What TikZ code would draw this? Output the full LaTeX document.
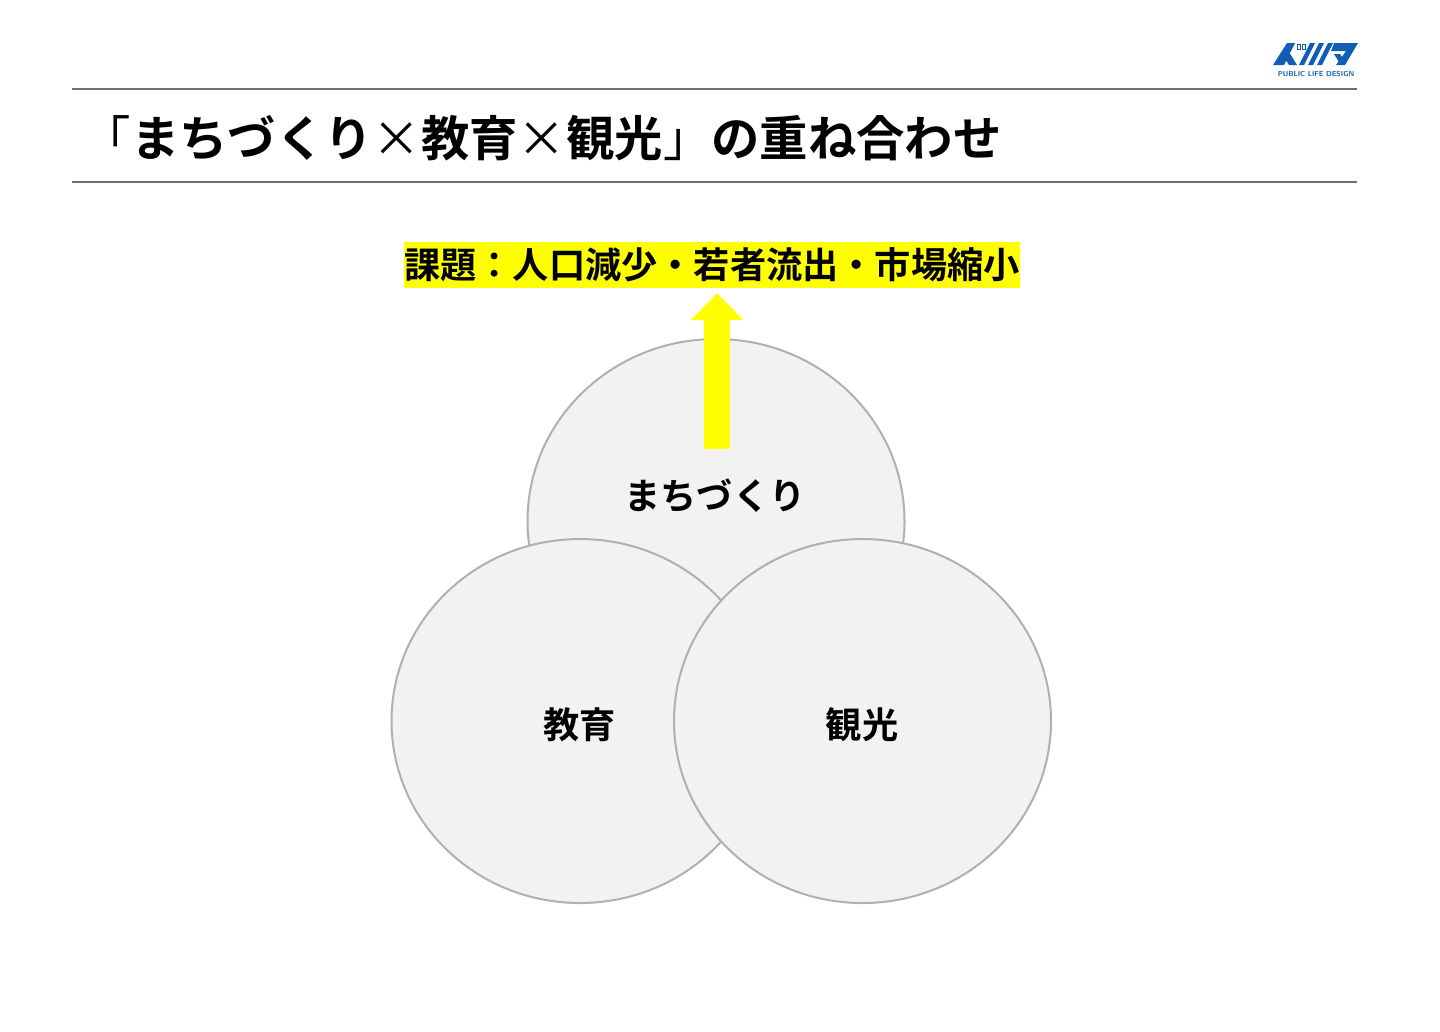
\documentclass[tikz,border=0pt]{standalone}
\usepackage{fontspec}
\setmainfont{Noto Sans CJK JP}[BoldFont={Noto Sans CJK JP Bold}]
\usetikzlibrary{arrows.meta,shapes.geometric}
\definecolor{rulegray}{HTML}{707070}
\definecolor{circlegray}{HTML}{F2F2F2}
\definecolor{edgegray}{HTML}{B0B0B0}
\definecolor{logoblue}{HTML}{0F5DB5}
\definecolor{issueyellow}{HTML}{FFFF00}
\newcommand{\thin}[1]{{\mdseries #1}}
\tikzset{
  topic/.style={ellipse,draw=edgegray,fill=circlegray,line width=0.2mm,minimum width=37.7mm,minimum height=36.4mm,inner sep=0pt},
  topiclabel/.style={font=\fontsize{10.3pt}{12pt}\selectfont\bfseries,inner sep=0pt},
  headrule/.style={draw=rulegray,line width=0.25mm},
  logopart/.style={fill=logoblue,draw=none}
}
\begin{document}
\begin{tikzpicture}[x=0.1mm,y=-0.1mm]
\useasboundingbox (0,0) rectangle (1440,1031);
% header
\coordinate (ruleAleft) at (72,89);
\coordinate (ruleAright) at (1357,89);
\coordinate (ruleBleft) at (72,182);
\coordinate (ruleBright) at (1357,182);
\draw [headrule] (ruleAleft) -- (ruleAright);
\draw [headrule] (ruleBleft) -- (ruleBright);
\node (title) [anchor=west,inner sep=0pt,font=\fontsize{13.76pt}{16pt}\selectfont\bfseries] at (82,138) {\thin{「}まちづくり\thin{×}教育\thin{×}観光\thin{」}の重ね合わせ};
% logo
\fill [logopart] (1287,43) -- (1295,43) -- (1284,65) -- (1273,65) -- cycle;
\fill [logopart] (1289,52) -- (1297,65) -- (1289,65) -- (1285,59) -- cycle;
\draw [logoblue,line width=0.1mm] (1297,44) rectangle (1300,49);
\draw [logoblue,line width=0.1mm] (1302,44) rectangle (1305,49);
\foreach \x in {0,9,18} {
  \fill [logopart] (1310+\x,43) -- (1315+\x,43) -- (1304+\x,65) -- (1299+\x,65) -- cycle;
}
\fill [logopart] (1334,43) -- (1358,43) -- (1345,65) -- (1336,65) -- (1346,51) -- (1331,51) -- cycle;
\fill [logopart] (1334,54) -- (1340,54) -- (1344,60) -- (1339,62) -- cycle;
\node (logotext) [text=logoblue,inner sep=0pt,font=\sffamily\bfseries\fontsize{2.05pt}{2.2pt}\selectfont] at (1316,74) {PUBLIC LIFE DESIGN};
% circles
\node (machi) [topic] at (716,521) {};
\node (kyoiku) [topic] at (580,721) {};
\node (kanko) [topic] at (862.5,721) {};
\node (machilabel) [topiclabel] at (715,496) {まちづくり};
\node (kyoikulabel) [topiclabel] at (579.5,725) {教育};
\node (kankolabel) [topiclabel] at (862,725) {観光};
% issue and arrow
\node (issue) [fill=issueyellow,inner sep=0pt,minimum width=61.6mm,minimum height=4.6mm,font=\fontsize{10.3pt}{12pt}\selectfont\bfseries] at (712,265) {課題：人口減少・若者流出・市場縮小};
\coordinate (arrowtail) at (717,449);
\coordinate (arrowtip) at (717,293);
\draw [issueyellow,line width=2.6mm,-{Triangle[length=2.7mm,width=5.1mm]}] (arrowtail) -- (arrowtip);
\end{tikzpicture}
\end{document}
